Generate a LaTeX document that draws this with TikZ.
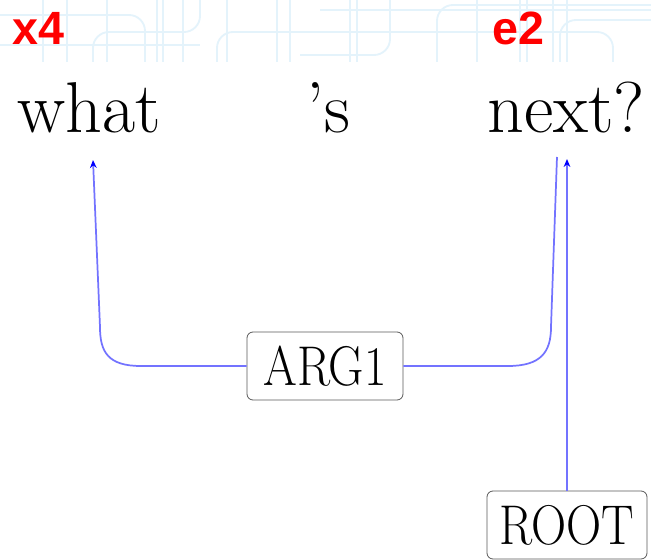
\documentclass[tikz,border=0pt]{standalone}
\usepackage{fontspec}
\usepackage{graphicx}
\usetikzlibrary{arrows.meta}
\newfontfamily\tagfont{Liberation Sans}
\newcommand{\narrowlabel}[1]{\scalebox{0.87}[1]{#1}}

\tikzset{
  word/.style={anchor=base west, inner sep=0pt, font=\fontsize{54}{64}\selectfont},
  tag/.style={anchor=base west, inner sep=0pt, text=red, font=\tagfont\bfseries\fontsize{35}{42}\selectfont},
  rel/.style={draw=black!65, line width=0.6pt, rounded corners=4.5pt, fill=white, inner sep=0pt,
    minimum width=117pt, minimum height=51pt, font=\fontsize{42}{50}\selectfont},
  dep/.style={draw={rgb,255:red,115;green,115;blue,255}, line width=1.3pt},
  deptip/.style={-{Stealth[length=6pt,width=5pt,color=blue]}},
  grid/.style={draw={rgb,255:red,228;green,243;blue,251}, line width=1.4pt, rounded corners=12pt}
}

\begin{document}
\begin{tikzpicture}[x=0.75pt,y=0.75pt,yscale=-1,xscale=1]
\useasboundingbox (0,0) rectangle (651,560);

%Background grid along the top
\begin{scope}
\clip (0,0) rectangle (651,62);
\foreach \gx in {43,67,107,157,163,183,227,277,290,350,357,477,520,527,553,567} {
  \draw[grid] (\gx,0) -- (\gx,70);
}
\draw[grid] (0,15) -- (145,15) -- (145,70);
\draw[grid] (0,45) -- (200,45);
\draw[grid] (93,70) -- (93,32) -- (200,32) -- (200,0);
\draw[grid] (217,70) -- (217,32) -- (613,32) -- (613,70);
\draw[grid] (320,10) -- (651,10);
\draw[grid] (390,0) -- (390,55) -- (300,55);
\draw[grid] (437,70) -- (437,5) -- (651,5);
\draw[grid] (560,70) -- (560,20) -- (651,20);
\end{scope}

% Text Node
\node[tag] (x4) at (12,45) {x4};
% Text Node
\node[tag] (e2) at (492,45) {e2};

% Text Node
\node[word] (what) at (17,133) {what};
% Text Node
\node[word] (s) at (306,133) {\textquoteright s};
% Text Node
\node[word] (next) at (487,133) {next?};

%Rounded Rect
\node[rel] (arg1) at (325,366) {\narrowlabel{ARG1}};
%Rounded Rect
\node[rel, minimum width=120pt] (root) at (567,525) {\narrowlabel{ROOT}};

\coordinate (what-in) at (93,160);
\coordinate (next-in) at (557,157);
\coordinate (root-in) at (567,159);

%Curve Lines
\draw[dep, deptip] (arg1.west) -- (141,366) .. controls (108,366) and (100,352) .. (100,327) -- (what-in);
\draw[dep] (arg1.east) -- (508,366) .. controls (541,366) and (551,352) .. (551,327) -- (next-in);
%Straight Lines
\draw[dep, deptip] (root.north) -- (root-in);

\end{tikzpicture}
\end{document}
